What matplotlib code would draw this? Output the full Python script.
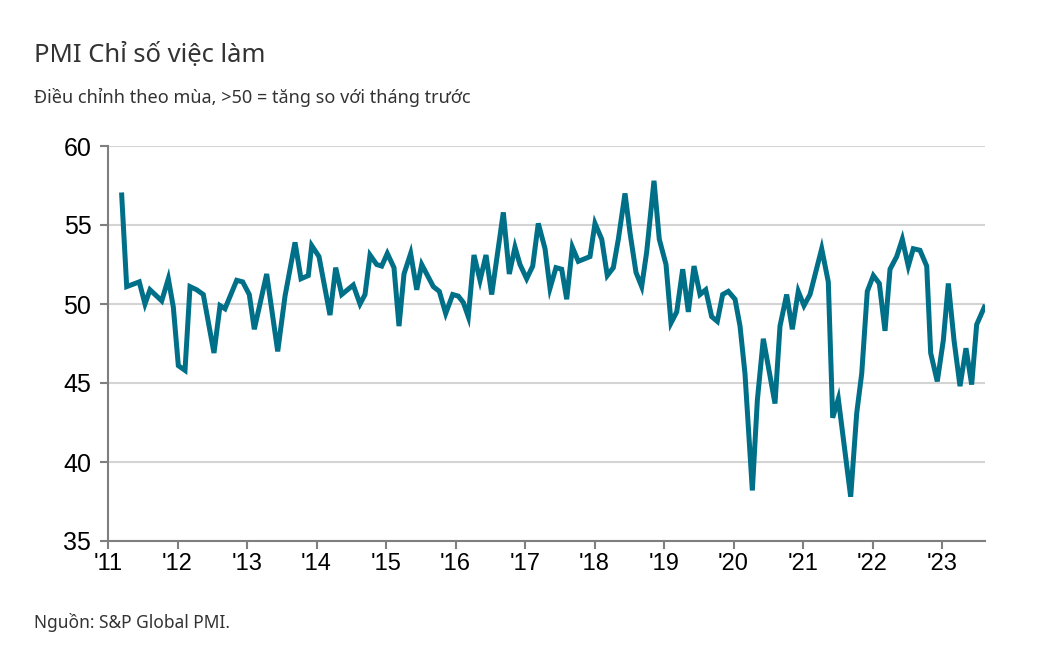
import matplotlib
matplotlib.use("Agg")
import matplotlib.pyplot as plt

plt.rcParams['font.family'] = ['Noto Sans', 'DejaVu Sans']

# decimal years offset from 2011
offsets = [0.197, 0.269, 0.450, 0.532, 0.604, 0.773, 0.868, 0.940, 1.012, 1.108, 1.180, 1.276,
           1.371, 1.525, 1.612, 1.683, 1.852, 1.938, 2.033, 2.105, 2.283, 2.442, 2.547, 2.691,
           2.777, 2.882, 2.931, 3.036, 3.194, 3.276, 3.363, 3.529, 3.626, 3.698, 3.770, 3.866,
           3.938, 4.019, 4.115, 4.187, 4.259, 4.355, 4.442, 4.514, 4.681, 4.767, 4.859, 4.960,
           5.040, 5.112, 5.184, 5.266, 5.353, 5.439, 5.521, 5.688, 5.774, 5.856, 5.928, 6.024,
           6.111, 6.191, 6.288, 6.360, 6.446, 6.528, 6.600, 6.681, 6.767, 6.935, 7.007, 7.104,
           7.184, 7.271, 7.343, 7.439, 7.511, 7.597, 7.679, 7.751, 7.856, 7.932, 8.029, 8.101,
           8.183, 8.269, 8.350, 8.432, 8.518, 8.600, 8.686, 8.767, 8.844, 8.925, 9.022, 9.094,
           9.165, 9.271, 9.343, 9.429, 9.597, 9.669, 9.765, 9.846, 9.932, 10.014, 10.101, 10.269,
           10.364, 10.427, 10.508, 10.686, 10.773, 10.845, 10.925, 11.012, 11.098, 11.180, 11.252,
           11.348, 11.429, 11.515, 11.587, 11.683, 11.780, 11.837, 11.932, 12.019, 12.091, 12.173,
           12.259, 12.345, 12.427, 12.499, 12.609]
values = [56.9, 51.1, 51.4, 50.0, 50.9, 50.2, 51.6, 49.8, 46.1, 45.8, 51.1, 50.9,
          50.6, 46.9, 49.9, 49.7, 51.5, 51.4, 50.6, 48.4, 51.9, 47.0, 50.5, 53.9,
          51.6, 51.8, 53.7, 53.0, 49.3, 52.3, 50.6, 51.2, 50.0, 50.6, 53.1, 52.5,
          52.4, 53.2, 52.3, 48.6, 51.9, 53.2, 50.9, 52.5, 51.1, 50.8, 49.4, 50.6,
          50.5, 50.1, 49.2, 53.1, 51.5, 53.1, 50.6, 55.8, 51.9, 53.6, 52.5, 51.6,
          52.4, 55.1, 53.5, 51.0, 52.3, 52.2, 50.3, 53.6, 52.7, 53.0, 55.1, 54.1,
          51.8, 52.3, 54.1, 57.0, 54.5, 52.0, 51.1, 53.3, 57.8, 54.1, 52.5, 48.8,
          49.5, 52.2, 49.5, 52.4, 50.6, 50.9, 49.2, 48.9, 50.6, 50.8, 50.3, 48.6,
          45.6, 38.2, 43.9, 47.8, 43.7, 48.6, 50.6, 48.4, 50.8, 49.9, 50.6, 53.5,
          51.4, 42.8, 44.0, 37.8, 43.1, 45.6, 50.8, 51.8, 51.3, 48.3, 52.2,
          53.0, 54.1, 52.4, 53.5, 53.4, 52.4, 46.9, 45.1, 47.7, 51.3, 47.7,
          44.8, 47.2, 44.9, 48.7, 49.8]
years = list(range(2011, 2024))
year_labels = ["'" + str(y)[2:] for y in years]
y_ticks = [35, 40, 45, 50, 55, 60]

dates = [2011 + o for o in offsets]

fig = plt.figure(figsize=(10.52, 6.63), dpi=100)
ax = fig.add_axes([108/1052, 1 - 541/663, (985-108)/1052, (541-146)/663])
ax.plot(dates, values, color='#006f88', lw=3.6, solid_joinstyle='miter')

ax.set_ylim(35, 60)
ax.set_xlim(2011, 2011 + (985-108)/69.5)
ax.set_yticks(y_ticks)
ax.set_yticklabels([str(v) for v in y_ticks], fontsize=18, family='Liberation Sans')
ax.set_xticks(years)
ax.set_xticklabels(year_labels, fontsize=17, family='Liberation Sans')
ax.grid(axis='y', color='#d4d4d4', lw=1.5)
ax.set_axisbelow(True)
for s in ['top', 'right']:
    ax.spines[s].set_visible(False)
for s in ['left', 'bottom']:
    ax.spines[s].set_color('#7f7f7f')
    ax.spines[s].set_linewidth(1.5)
ax.tick_params(axis='y', length=6, color='#7f7f7f', width=1.5, pad=6)
ax.tick_params(axis='x', length=6, color='#7f7f7f', width=1.5, pad=3)

fig.text(34/1052, 1 - 56/663, "PMI Chỉ số việc làm", fontsize=18.5, color='#333333', va='center')
fig.text(34/1052, 1 - 97/663, "Điều chỉnh theo mùa, >50 = tăng so với tháng trước", fontsize=13,
         color='#333333', va='center')
fig.text(34/1052, 1 - 623/663, "Nguồn: S&P Global PMI.", fontsize=12.5, color='#333333', va='center')

fig.savefig("out.png", dpi=100)
